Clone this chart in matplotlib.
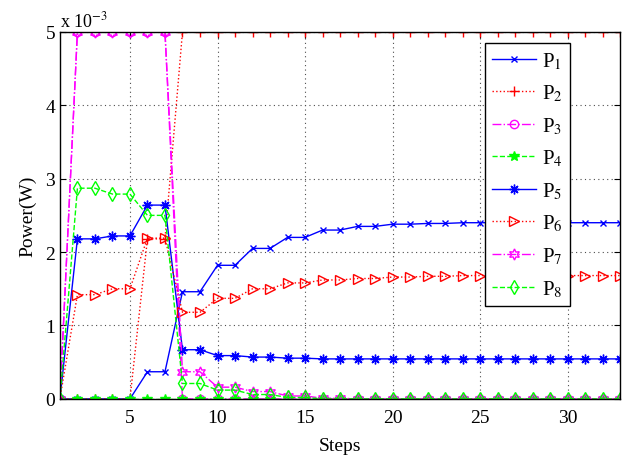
import numpy as np
import matplotlib
matplotlib.use('Agg')
import matplotlib.pyplot as plt

plt.rcParams['font.family'] = ['Liberation Serif', 'DejaVu Serif']
plt.rcParams['mathtext.fontset'] = 'stix'

# Data (values in units of 1e-3 W)
steps = np.arange(1, 34)
tail = 33 - 25
P1 = [0, 0, 0, 0, 0, 0.37, 0.37, 1.46, 1.46, 1.82, 1.82, 2.05, 2.05, 2.20, 2.20,
      2.30, 2.30, 2.35, 2.35, 2.38, 2.38, 2.39, 2.39, 2.40, 2.40] + [2.40] * tail
P2 = [0, 0, 0, 0, 0, 2.18, 2.18] + [5.0] * 26
P3 = [0] + [5.0] * 6 + [0] * 26
P4 = [0] * 33
P5 = [0, 2.18, 2.18, 2.22, 2.22, 2.64, 2.64, 0.67, 0.67, 0.59, 0.59, 0.57, 0.57,
      0.555, 0.555, 0.545, 0.545, 0.545, 0.545, 0.545, 0.545, 0.545, 0.545, 0.545, 0.545] + [0.545] * tail
P6 = [0, 1.42, 1.42, 1.50, 1.50, 2.19, 2.19, 1.18, 1.18, 1.37, 1.37, 1.50, 1.50,
      1.58, 1.58, 1.62, 1.62, 1.64, 1.64, 1.66, 1.66, 1.67, 1.67, 1.68, 1.68] + [1.68] * tail
P7 = [0] + [5.0] * 6 + [0.37, 0.37, 0.16, 0.16, 0.10, 0.10, 0.04, 0.04, 0.01, 0.01] + [0] * 16
P8 = [0, 2.87, 2.87, 2.79, 2.79, 2.50, 2.50, 0.21, 0.21, 0.12, 0.12, 0.06, 0.06,
      0.02, 0.02] + [0] * 18

series = [P1, P2, P3, P4, P5, P6, P7, P8]
labels = ['P$_1$', 'P$_2$', 'P$_3$', 'P$_4$', 'P$_5$', 'P$_6$', 'P$_7$', 'P$_8$']
colors = ['#0000ff', '#ff0000', '#ff00ff', '#00ff00', '#0000ff', '#ff0000', '#ff00ff', '#00ff00']
styles = ['-', ':', '-.', '--', '-', ':', '-.', '--']
markers = ['x', '+', 'o', '*', (8, 2, 0), '>', (6, 1, 0), 'd']
msizes = [5, 7, 6, 7, 7, 7, 8, 7.5]
filled = [False, False, False, True, False, False, False, False]

fig = plt.figure(figsize=(6.24, 4.56), dpi=100)
ax = fig.add_axes([0.096, 0.123, 0.898, 0.805])

for y, lab, c, ls, m, ms, f in zip(series, labels, colors, styles, markers, msizes, filled):
    ax.plot(steps, y, color=c, linestyle=ls, marker=m, markersize=ms,
            markerfacecolor=c if f else 'none', markeredgecolor=c,
            markeredgewidth=1.0, linewidth=1.0, label=lab)

ax.set_xlim(1, 33)
ax.set_ylim(0, 5)
ax.set_xticks([5, 10, 15, 20, 25, 30])
ax.set_yticks([0, 1, 2, 3, 4, 5])
ax.tick_params(direction='in', labelsize=14, length=4, top=True, right=True)
ax.tick_params(axis='x', pad=7)
ax.grid(True, linestyle=(0, (1, 3)), color='0.3', linewidth=0.8)
ax.set_xlabel('Steps', fontsize=14, labelpad=8)
ax.set_ylabel('Power(W)', fontsize=14, labelpad=6)
ax.text(0.0, 1.005, r'x 10$^{-3}$', transform=ax.transAxes, fontsize=13,
        ha='left', va='bottom')

leg = ax.legend(loc='upper right', bbox_to_anchor=(0.911, 0.97), borderaxespad=0,
                fontsize=15, fancybox=False, edgecolor='black', framealpha=1,
                labelspacing=0.57, handlelength=2.1, borderpad=0.35,
                handletextpad=0.3)
leg.get_frame().set_linewidth(1.0)

for s in ax.spines.values():
    s.set_linewidth(1.0)

plt.savefig('out.png', dpi=100)
plt.close()
